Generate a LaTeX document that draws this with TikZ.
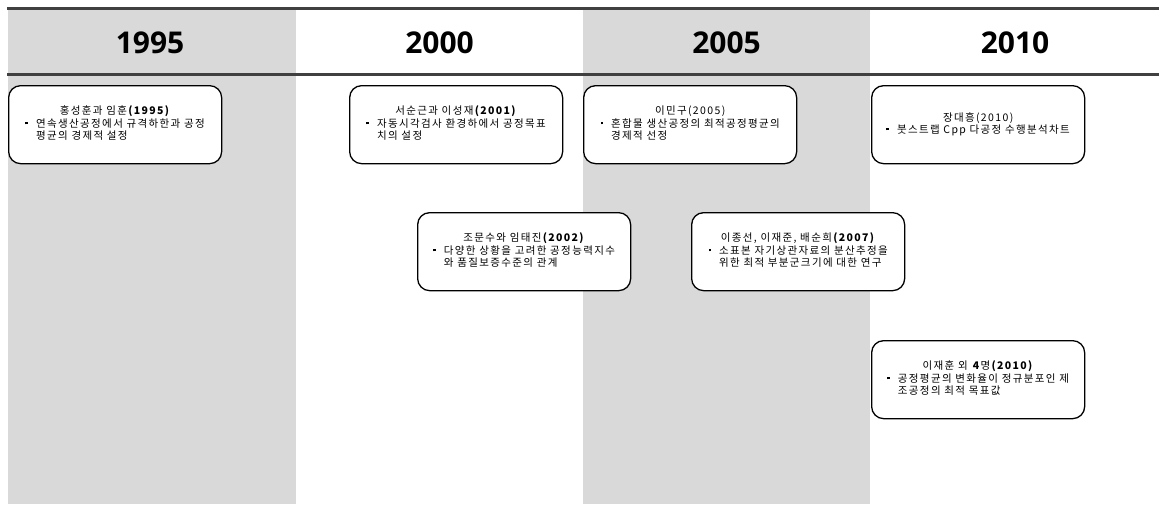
\documentclass[tikz,border=0pt]{standalone}
\usepackage{fontspec}
\setmainfont{Noto Sans CJK KR}[LetterSpace=13]
\newfontfamily\yearfont{Open Sans}
\definecolor{bandgray}{HTML}{D9D9D9}
\definecolor{rulegray}{HTML}{404040}
\newcommand\entrybullet{\rule[0.28em]{2.6pt}{2.6pt}}
\newcommand\entrythree[3]{\begin{tabular}{@{}l@{\hspace{8pt}}l@{}}\multicolumn{2}{@{}c@{}}{#1}\\\entrybullet & #2\\ & #3\end{tabular}}
\newcommand\entrytwo[2]{\begin{tabular}{@{}l@{\hspace{8pt}}l@{}}\multicolumn{2}{@{}c@{}}{#1}\\\entrybullet & #2\end{tabular}}
\begin{document}
\begin{tikzpicture}[x=1pt,y=-1pt,
  rulestyle/.style={draw=rulegray, line width=3pt},
  yearlabel/.style={font=\yearfont\bfseries\fontsize{30}{30}\selectfont, anchor=base, inner sep=0pt},
  entry/.style={draw=black, line width=1.3pt, rounded corners=12pt, fill=white,
    minimum width=213pt, minimum height=78pt, inner sep=0pt,
    font=\fontsize{10.5}{12}\selectfont, anchor=north west}
]
\useasboundingbox (0,0) rectangle (1159,504);
\fill[bandgray] (8,8) rectangle (296,504);
\fill[bandgray] (583,8) rectangle (870,504);
\draw[rulestyle] (7,8) -- (1159,8);
\draw[rulestyle] (7,74.5) -- (1159,74.5);
\node[yearlabel] (y1995) at (150,53) {1995};
\node[yearlabel] (y2000) at (439.5,53) {2000};
\node[yearlabel] (y2005) at (726.5,53) {2005};
\node[yearlabel] (y2010) at (1015,53) {2010};
\node[entry] (e1) at (8,85) {\entrythree{홍성훈과 임훈\textbf{(1995)}}{연속생산공정에서 규격하한과 공정}{평균의 경제적 설정}};
\node[entry] (e2) at (349,85) {\entrythree{서순근과 이성재\textbf{(2001)}}{자동시각검사 환경하에서 공정목표}{치의 설정}};
\node[entry] (e3) at (583,85) {\entrythree{이민구(2005)}{혼합물 생산공정의 최적공정평균의}{경제적 선정}};
\node[entry] (e4) at (871,85) {\entrytwo{장대흥(2010)}{붓스트랩 Cpp 다공정 수행분석차트}};
\node[entry] (e5) at (417,212) {\entrythree{조문수와 임태진\textbf{(2002)}}{다양한 상황을 고려한 공정능력지수}{와 품질보증수준의 관계}};
\node[entry] (e6) at (691,212) {\entrythree{이종선, 이재준, 배순희\textbf{(2007)}}{소표본 자기상관자료의 분산추정을}{위한 최적 부분군크기에 대한 연구}};
\node[entry] (e7) at (871,340) {\entrythree{이재훈 외 \textbf{4}명\textbf{(2010)}}{공정평균의 변화율이 정규분포인 제}{조공정의 최적 목표값}};
\end{tikzpicture}
\end{document}
